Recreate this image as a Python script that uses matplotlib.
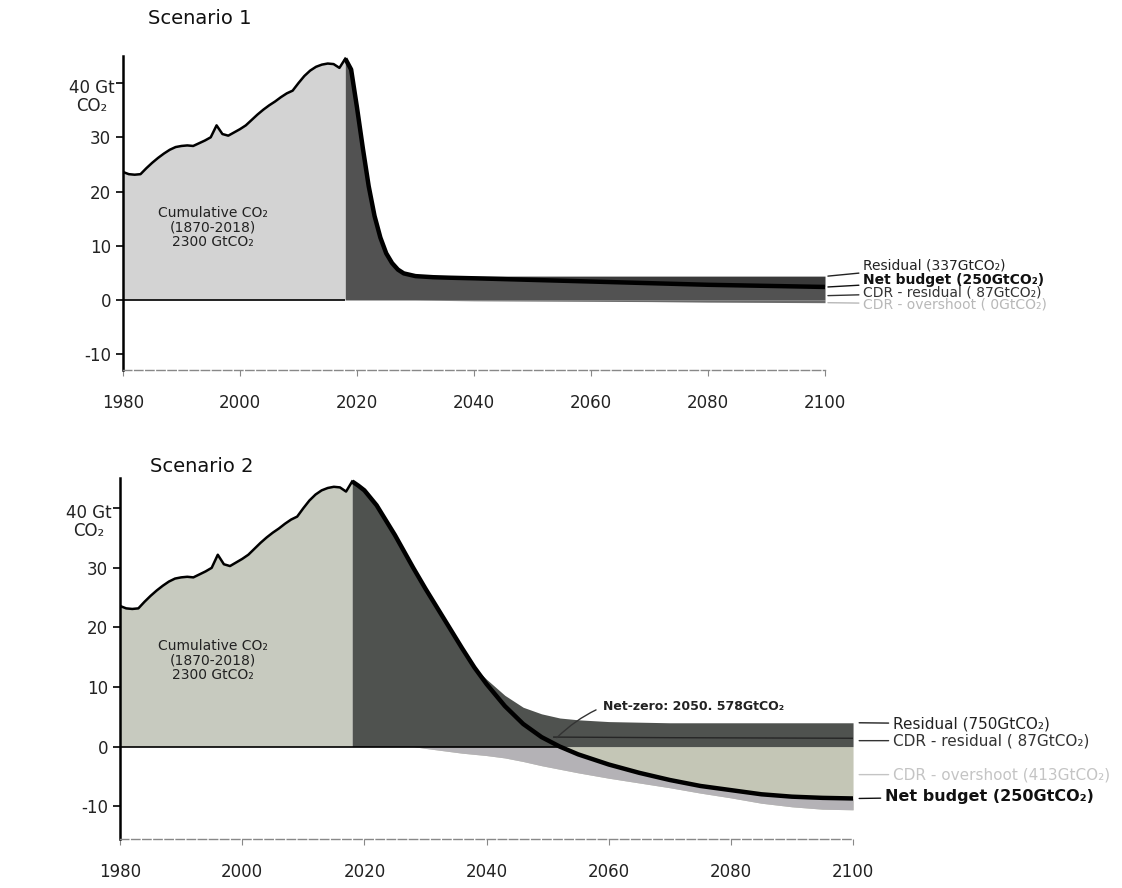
import numpy as np
import matplotlib.pyplot as plt

# historical emissions (GtCO2/yr), shared by both scenarios
hist_years = list(range(1980, 2019))
hist_co2 = [23.6, 23.2, 23.1, 23.2, 24.3, 25.3, 26.2, 27.0, 27.7, 28.2,
            28.4, 28.5, 28.4, 28.9, 29.4, 30.0, 32.2, 30.6, 30.3, 30.9,
            31.5, 32.2, 33.2, 34.2, 35.1, 35.9, 36.6, 37.4, 38.1, 38.6,
            40.0, 41.3, 42.3, 43.0, 43.4, 43.6, 43.5, 42.8, 44.5]

# scenario 1: fast drop to residual emissions
s1_years = [2018, 2019, 2020, 2021, 2022, 2023, 2024, 2025, 2026, 2027, 2028,
            2030, 2033, 2036, 2040, 2050, 2060, 2070, 2080, 2090, 2100]
s1_net = [44.5, 42.5, 35.5, 28.0, 21.0, 15.5, 11.5, 8.6, 6.8, 5.6, 4.9,
          4.4, 4.2, 4.1, 4.0, 3.7, 3.4, 3.1, 2.8, 2.6, 2.4]
s1_resid = [44.5, 42.5, 35.5, 28.0, 21.0, 15.5, 11.5, 8.6, 6.8, 5.6, 4.9,
            4.4, 4.4, 4.4, 4.4, 4.4, 4.4, 4.4, 4.4, 4.4, 4.4]
s1_cdr = [0, 0, 0, 0, 0, 0, 0, 0, 0, 0, 0,
          0.0, -0.05, -0.1, -0.15, -0.2, -0.25, -0.3, -0.4, -0.45, -0.5]

# scenario 2: slow decline with overshoot
s2_years = [2018, 2019, 2020, 2022, 2025, 2028, 2030, 2033, 2036, 2038, 2040,
            2043, 2046, 2049, 2052, 2055, 2060, 2065, 2070, 2075, 2080, 2085,
            2090, 2095, 2100]
s2_net = [44.5, 43.8, 43.0, 40.5, 35.5, 30.0, 26.5, 21.5, 16.5, 13.3, 10.5,
          6.8, 3.8, 1.6, 0.0, -1.3, -3.0, -4.4, -5.6, -6.6, -7.3, -8.0,
          -8.4, -8.6, -8.7]
s2_resid = [44.5, 43.8, 43.0, 40.5, 35.5, 30.0, 26.5, 21.5, 16.5, 13.3, 11.3,
            8.6, 6.6, 5.5, 4.8, 4.5, 4.2, 4.1, 4.0, 4.0, 4.0, 4.0,
            4.0, 4.0, 4.0]
s2_cdr = [0, 0, 0, 0, 0, 0, -0.3, -0.7, -1.1, -1.3, -1.5,
          -1.9, -2.5, -3.2, -3.8, -4.4, -5.3, -6.1, -6.9, -7.8, -8.6, -9.5,
          -10.1, -10.5, -10.6]
s2_cdr_res_years = [2051, 2070, 2100]
s2_cdr_res_line = [1.6, 1.5, 1.4]

plt.rcParams["font.family"] = ["DejaVu Sans"]

fig = plt.figure(figsize=(11.22, 8.88), dpi=100)
ax1 = fig.add_axes([0.1096, 0.5828, 0.6257, 0.3542])
ax2 = fig.add_axes([0.1070, 0.0552, 0.6533, 0.4060])


def style_axes(ax, ylim):
    ax.set_xlim(1980, 2100)
    ax.set_ylim(*ylim)
    for s in ["top", "right"]:
        ax.spines[s].set_visible(False)
    ax.spines["left"].set_linewidth(1.8)
    ax.spines["bottom"].set_color("#888888")
    ax.spines["bottom"].set_linestyle((0, (6, 2)))
    ax.spines["bottom"].set_linewidth(1.0)
    ax.set_xticks(range(1980, 2101, 20))
    ax.set_yticks([-10, 0, 10, 20, 30, 40])
    ax.set_yticklabels(["-10", "0", "10", "20", "30", ""])
    ax.tick_params(axis="y", length=5, width=1.2, labelsize=12, labelcolor="#222222")
    ax.tick_params(axis="x", length=4, width=0.8, color="#888888",
                   labelsize=12, labelcolor="#222222", pad=13)
    ax.annotate("40 Gt\nCO₂", xy=(0, 40), xycoords=("axes fraction", "data"),
                xytext=(-6, -10), textcoords="offset points",
                ha="right", va="center", multialignment="center",
                fontsize=12, color="#222222", linespacing=0.95)


# ---- Scenario 1 ----
style_axes(ax1, (-13, 45))
ax1.fill_between(hist_years, 0, hist_co2, color="#d3d3d3", lw=0)
ax1.plot(hist_years, hist_co2, color="black", lw=1.8)
ax1.fill_between(s1_years, s1_cdr, 0, color="#6b6b6b", lw=0)
ax1.fill_between(s1_years, 0, s1_net, color="#525252", lw=0)
ax1.fill_between(s1_years, s1_net, s1_resid, color="#3a3a3a", lw=0)
ax1.plot(s1_years, s1_net, color="black", lw=3.2, solid_capstyle="butt")
ax1.hlines(0, hist_years[0], hist_years[-1], color="black", lw=1.2)
ax1.text(1995.4, 13.3, "Cumulative CO₂\n(1870-2018)\n2300 GtCO₂",
         ha="center", va="center", fontsize=10, color="#222222", linespacing=1.05)

labels1 = [("Residual (337GtCO₂)", s1_resid[-1], 6.3, "normal", "#222222"),
           ("Net budget (250GtCO₂)", s1_net[-1], 3.7, "bold", "#111111"),
           ("CDR - residual ( 87GtCO₂)", 0.8, 1.4, "normal", "#333333"),
           ("CDR - overshoot ( 0GtCO₂)", s1_cdr[-1], -0.8, "normal", "#b8b8b8")]
for txt, y0, y1, w, c in labels1:
    ax1.annotate(txt, xy=(2100.5, y0), xytext=(2106.5, y1),
                 ha="left", va="center", fontsize=10, fontweight=w, color=c,
                 annotation_clip=False,
                 arrowprops=dict(arrowstyle="-", color=c, lw=1.0,
                                 shrinkA=1, shrinkB=0))

# ---- Scenario 2 ----
style_axes(ax2, (-15.5, 45))
s2n = np.array(s2_net)
ax2.fill_between(hist_years, 0, hist_co2, color="#c7cabf", lw=0)
ax2.plot(hist_years, hist_co2, color="black", lw=1.8)
ax2.fill_between(s2_years, s2_cdr, 0, color="#c4c6b6", lw=0)
ax2.fill_between(s2_years, s2_cdr, np.minimum(s2n, 0), color="#b4b2b6", lw=0)
ax2.fill_between(s2_years, 0, s2_resid, color="#4f524f", lw=0)
ax2.plot(s2_cdr_res_years, s2_cdr_res_line, color="#262626", lw=1.0)
ax2.plot(s2_years, s2_net, color="black", lw=3.2, solid_capstyle="butt")
ax2.hlines(0, hist_years[0], 2052, color="black", lw=1.2)
ax2.text(1995.2, 14.5, "Cumulative CO₂\n(1870-2018)\n2300 GtCO₂",
         ha="center", va="center", fontsize=10, color="#222222", linespacing=1.05)
ax2.annotate("Net-zero: 2050. 578GtCO₂", xy=(2051.5, 1.5), xytext=(2059, 6.8),
             ha="left", va="center", fontsize=9, fontweight="bold", color="#222222",
             arrowprops=dict(arrowstyle="-", color="#333333", lw=1.0,
                             connectionstyle="arc3,rad=0.3", shrinkA=3, shrinkB=0))

labels2 = [("Residual (750GtCO₂)", s2_resid[-1], 3.8, 2106.5, "normal", "#222222"),
           ("CDR - residual ( 87GtCO₂)", 1.0, 1.0, 2106.5, "normal", "#333333"),
           ("CDR - overshoot (413GtCO₂)", -4.7, -4.7, 2106.5, "normal", "#c4c4c4"),
           ("Net budget (250GtCO₂)", s2_net[-1], -8.4, 2105.2, "bold", "#111111")]
for txt, y0, y1, xt, w, c in labels2:
    ax2.annotate(txt, xy=(2101, y0), xytext=(xt, y1),
                 ha="left", va="center", fontsize=11 if w == "normal" else 11.5,
                 fontweight=w, color=c, annotation_clip=False,
                 arrowprops=dict(arrowstyle="-", color=c, lw=1.0,
                                 shrinkA=1, shrinkB=0))

fig.text(148 / 1122, 1 - 18 / 888, "Scenario 1", fontsize=14, va="center", color="#111111")
fig.text(150 / 1122, 1 - 466 / 888, "Scenario 2", fontsize=14, va="center", color="#111111")

fig.savefig("out.png", dpi=100)
